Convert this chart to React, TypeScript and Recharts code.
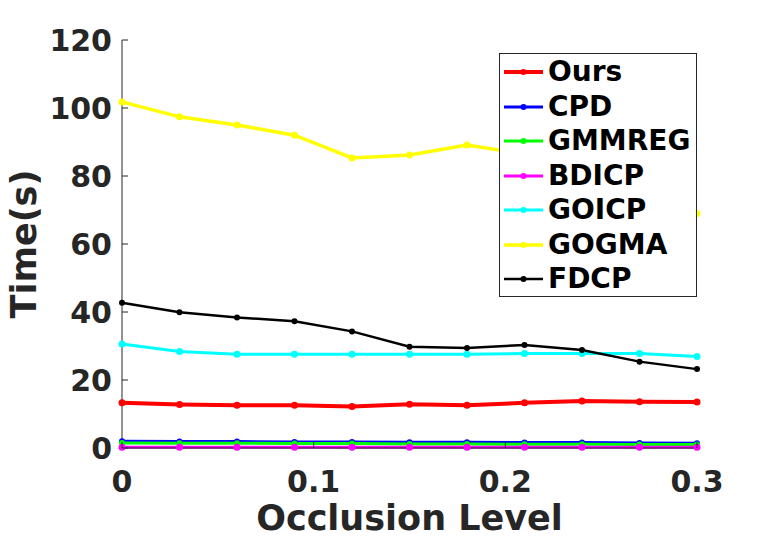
import { LineChart, Line, XAxis, YAxis, Legend, Label } from 'recharts';

const LEVELS = [0, 0.03, 0.06, 0.09, 0.12, 0.15, 0.18, 0.21, 0.24, 0.27, 0.3];
const OURS = [13.3, 12.8, 12.6, 12.6, 12.2, 12.9, 12.6, 13.3, 13.8, 13.6, 13.5];
const CPD = [2.0, 1.9, 1.9, 1.8, 1.8, 1.7, 1.7, 1.6, 1.6, 1.5, 1.4];
const GMMREG = [1.5, 1.4, 1.4, 1.3, 1.3, 1.2, 1.2, 1.1, 1.1, 1.0, 1.0];
const BDICP = [0.2, 0.2, 0.2, 0.2, 0.2, 0.2, 0.2, 0.2, 0.2, 0.2, 0.2];
const GOICP = [30.6, 28.4, 27.6, 27.6, 27.6, 27.6, 27.6, 27.8, 27.8, 27.8, 26.9];
const GOGMA = [101.8, 97.4, 95.0, 92.0, 85.3, 86.2, 89.1, 86.5, 84.0, 78.0, 69.0];
const FDCP = [42.7, 39.9, 38.4, 37.3, 34.3, 29.8, 29.4, 30.3, 28.8, 25.4, 23.2];

const X_TICKS = [0, 0.1, 0.2, 0.3];
const Y_TICKS = [0, 20, 40, 60, 80, 100, 120];

const SERIES = [
  { key: 'ours', name: 'Ours', values: OURS, color: '#ff0000', width: 4, r: 3.5 },
  { key: 'cpd', name: 'CPD', values: CPD, color: '#0000ff', width: 3, r: 3 },
  { key: 'gmmreg', name: 'GMMREG', values: GMMREG, color: '#00ff00', width: 3, r: 3 },
  { key: 'bdicp', name: 'BDICP', values: BDICP, color: '#ff00ff', width: 3, r: 3.5 },
  { key: 'goicp', name: 'GOICP', values: GOICP, color: '#00ffff', width: 3, r: 3.5 },
  { key: 'gogma', name: 'GOGMA', values: GOGMA, color: '#ffff00', width: 3.5, r: 3.5 },
  { key: 'fdcp', name: 'FDCP', values: FDCP, color: '#000000', width: 2.5, r: 3 },
];

const data = LEVELS.map((x, i) => {
  const row: Record<string, number> = { x };
  SERIES.forEach(s => { row[s.key] = s.values[i]; });
  return row;
});

const FONT = '"DejaVu Sans", sans-serif';
const INK = '#262626';

const BottomTick = ({ x, y, payload }: any) => (
  <g>
    <line x1={x} y1={y} x2={x} y2={y - 6} stroke={INK} />
    <text x={x} y={y + 44} textAnchor="middle" fontFamily={FONT} fontWeight="bold" fontSize={30} fill={INK}>
      {String(payload.value)}
    </text>
  </g>
);

const LeftTick = ({ x, y, payload }: any) => (
  <g>
    <line x1={x} y1={y} x2={x + 6} y2={y} stroke={INK} />
    <text x={x - 10} y={y + 11} textAnchor="end" fontFamily={FONT} fontWeight="bold" fontSize={30} fill={INK}>
      {String(payload.value)}
    </text>
  </g>
);

const TopTick = ({ x, y }: any) => <line x1={x} y1={y} x2={x} y2={y + 6} stroke={INK} />;
const RightTick = ({ x, y }: any) => <line x1={x} y1={y} x2={x - 6} y2={y} stroke={INK} />;

const LegendBox = () => (
  <div style={{
    border: `1px solid ${INK}`, background: '#fff', boxSizing: 'border-box',
    width: 198, height: 244, paddingTop: 1,
  }}>
    {SERIES.map(s => (
      <div key={s.key} style={{ display: 'flex', alignItems: 'center', height: 34.5 }}>
        <svg width={48} height={12} style={{ flex: 'none' }}>
          <line x1={4} y1={6} x2={43} y2={6} stroke={s.color} strokeWidth={s.width} />
          <circle cx={23.5} cy={6} r={3} fill={s.color} />
        </svg>
        <span style={{ fontFamily: FONT, fontWeight: 'bold', fontSize: 28, color: '#000', lineHeight: '34px' }}>
          {s.name}
        </span>
      </div>
    ))}
  </div>
);

export default function App() {
  return (
    <div style={{ position: 'absolute', left: 0, top: 0, background: '#fff' }}>
      <LineChart width={771} height={539} data={data} margin={{ top: 40, right: 74, left: 0, bottom: 0 }}>
        <XAxis
          xAxisId={0} type="number" dataKey="x" domain={[0, 0.3]} ticks={X_TICKS}
          height={91} tickSize={0} tickMargin={0} tickLine={false}
          axisLine={{ stroke: INK }} tick={<BottomTick />} interval={0}
        >
          <Label content={() => (
            <text x={409.5} y={530} textAnchor="middle" fontFamily={FONT} fontWeight="bold" fontSize={35} fill={INK}>
              Occlusion Level
            </text>
          )} />
        </XAxis>
        <XAxis
          xAxisId="top" orientation="top" type="number" dataKey="x" domain={[0, 0.3]} ticks={X_TICKS}
          height={0} tickSize={0} tickMargin={0} tickLine={false}
          axisLine={{ stroke: INK }} tick={<TopTick />} interval={0}
        />
        <YAxis
          yAxisId={0} type="number" domain={[0, 120]} ticks={Y_TICKS}
          width={122} tickSize={0} tickMargin={0} tickLine={false}
          axisLine={{ stroke: INK }} tick={<LeftTick />} interval={0}
        >
          <Label content={() => (
            <text x={36} y={244} transform="rotate(-90, 36, 244)" textAnchor="middle" fontFamily={FONT} fontWeight="bold" fontSize={35} fill={INK}>
              Time(s)
            </text>
          )} />
        </YAxis>
        <YAxis
          yAxisId="right" orientation="right" type="number" domain={[0, 120]} ticks={Y_TICKS}
          width={0} tickSize={0} tickMargin={0} tickLine={false}
          axisLine={{ stroke: INK }} tick={<RightTick />} interval={0}
        />
        {SERIES.map(s => (
          <Line
            key={s.key} xAxisId={0} yAxisId={0} dataKey={s.key} name={s.name}
            stroke={s.color} strokeWidth={s.width} isAnimationActive={false}
            dot={{ r: s.r, fill: s.color, stroke: s.color, strokeWidth: 0 }}
            activeDot={false}
          />
        ))}
        <Legend
          layout="vertical" align="center" verticalAlign="middle"
          content={<LegendBox />}
          wrapperStyle={{ position: 'absolute', left: 499, top: 53, width: 198, height: 244 }}
        />
      </LineChart>
    </div>
  );
}
